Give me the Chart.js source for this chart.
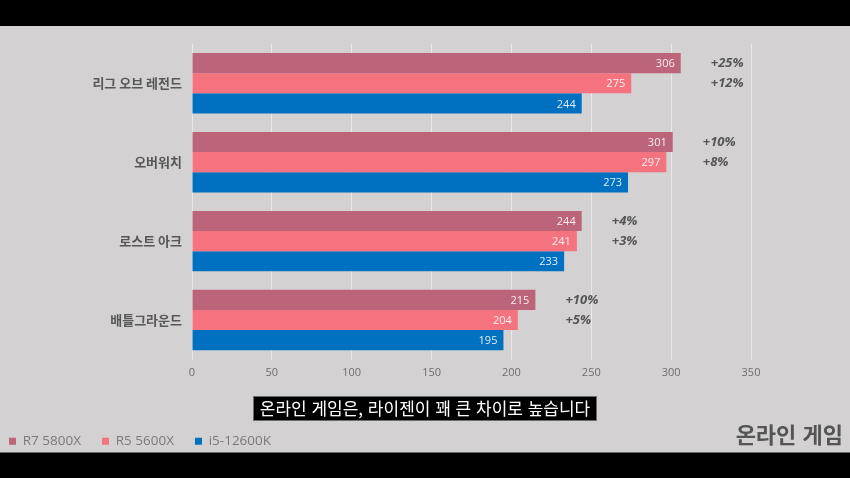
<!DOCTYPE html>
<html lang="ko">
<head>
<meta charset="utf-8">
<script src="https://cdn.jsdelivr.net/npm/chart.js@4.4.1/dist/chart.umd.min.js"></script>
<style>
  html, body { margin: 0; padding: 0; width: 850px; height: 478px; overflow: hidden; background: #d3d1d2; }
  #wrap { position: absolute; left: -12px; top: 26px; width: 862px; height: 432px; }
  #bar-top { position: absolute; left: 0; top: 0; width: 850px; height: 26px; background: #000; }
  #bar-bottom { position: absolute; left: 0; top: 452px; width: 850px; height: 26px; background: #000; border-top: 1px solid #6a6a6a; box-sizing: border-box; }
  #caption { position: absolute; left: 253px; top: 396px; width: 344px; height: 25px; background: #000; border: 1px solid #6a6a6a; box-sizing: border-box;
             color: #fff; font: 17px "Noto Sans CJK KR"; line-height: 22px; text-align: center; white-space: nowrap; }
  #title { position: absolute; right: 7px; top: 418px; font: bold 22px "Noto Sans CJK KR"; line-height: 30px; color: #555; }
</style>
</head>
<body>
<div id="wrap"><canvas id="games" width="862" height="432"></canvas></div>
<div id="bar-top"></div>
<div id="bar-bottom"></div>
<div id="caption">온라인 게임은, 라이젠이 꽤 큰 차이로 높습니다</div>
<div id="title">온라인 게임</div>
<script>
// data
const categories = ['리그 오브 레전드', '오버워치', '로스트 아크', '배틀그라운드'];
const seriesNames = ['R7 5800X', 'R5 5600X', 'i5-12600K'];
const r7Values = [306, 301, 244, 215];
const r5Values = [275, 297, 241, 204];
const i5Values = [244, 273, 233, 195];
const r7Gain = ['+25%', '+10%', '+4%', '+10%'];
const r5Gain = ['+12%', '+8%', '+3%', '+5%'];
const xMax = 350;
const xStep = 50;

const colors = ['#bc6479', '#f4737f', '#0070c0'];

// value inside bar end + gain % to the right of R7 bar
const barLabels = {
	id: 'barLabels',
	afterDatasetsDraw(chart) {
		const ctx = chart.ctx;
		ctx.save();
		ctx.textBaseline = 'middle';
		ctx.textAlign = 'right';
		ctx.font = '11px "Open Sans"';
		ctx.fillStyle = 'rgba(255,255,255,0.88)';
		chart.data.datasets.forEach((ds, di) => {
			chart.getDatasetMeta(di).data.forEach((bar, i) => {
				ctx.fillText(ds.data[i], bar.x - 6, bar.y + 1);
			});
		});

		const xScale = chart.scales.x;
		const r7Meta = chart.getDatasetMeta(0);
		const r5Meta = chart.getDatasetMeta(1);
		ctx.textAlign = 'left';
		ctx.font = 'italic bold 13px "Open Sans"';
		ctx.fillStyle = '#555';
		r7Values.forEach((v, i) => {
			const x = xScale.getPixelForValue(v) + 30;
			ctx.fillText(r7Gain[i], x, r7Meta.data[i].y);
			ctx.fillText(r5Gain[i], x, r5Meta.data[i].y);
		});
		ctx.restore();
	}
};

new Chart(document.getElementById('games'), {
	type: 'bar',
	data: {
		labels: categories,
		datasets: [
			{ label: seriesNames[0], data: r7Values, backgroundColor: colors[0] },
			{ label: seriesNames[1], data: r5Values, backgroundColor: colors[1] },
			{ label: seriesNames[2], data: i5Values, backgroundColor: colors[2] },
		],
	},
	options: {
		indexAxis: 'y',
		responsive: false,
		animation: false,
		devicePixelRatio: 1,
		categoryPercentage: 0.766,
		barPercentage: 1,
		layout: { padding: { top: 16, right: 99, bottom: 0, left: 0 } },
		plugins: {
			legend: {
				position: 'bottom',
				align: 'start',
				labels: {
					boxWidth: 7,
					boxHeight: 7,
					padding: 21,
					color: '#7a7a7a',
					font: { family: '"Open Sans"', size: 13.5 },
				},
			},
			tooltip: { enabled: false },
		},
		scales: {
			x: {
				min: 0,
				max: xMax,
				ticks: { stepSize: xStep, color: '#6e6e6e', padding: 7, font: { family: '"Open Sans"', size: 11 } },
				grid: { color: '#e9e9e9', drawTicks: false },
				border: { display: false },
				afterFit(axis) { axis.height = 54; },
			},
			y: {
				ticks: { color: '#575757', padding: 10, font: { family: '"Noto Sans CJK KR"', size: 13, weight: 'bold' } },
				grid: { display: false, drawTicks: false },
				border: { display: false },
				afterFit(axis) { axis.width = 204; },
			},
		},
	},
	plugins: [barLabels],
});
</script>
</body>
</html>
